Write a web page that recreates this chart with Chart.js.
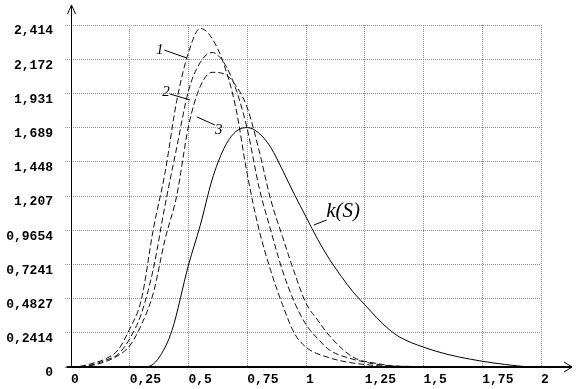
<!DOCTYPE html>
<html>
<head>
<meta charset="utf-8">
<script src="https://cdn.jsdelivr.net/npm/chart.js@4.4.1/dist/chart.umd.min.js"></script>
<style>
  html, body { margin: 0; padding: 0; background: #fff; }
  #wrap { width: 576px; height: 389px; }
</style>
</head>
<body>
<div id="wrap"><canvas id="chart" width="576" height="389"></canvas></div>
<script>
/* =========================
   DATA
========================= */
const xLabels = ["0", "0,25", "0,5", "0,75", "1", "1,25", "1,5", "1,75", "2"];
const yLabels = ["0", "0,2414", "0,4827", "0,7241", "0,9654", "1,207", "1,448", "1,689", "1,931", "2,172", "2,414"];

// k(S) — solid curve
const sK = [0, 0.3, 0.34, 0.38, 0.43, 0.5, 0.55, 0.6, 0.65, 0.7, 0.75, 0.8, 0.85, 0.9, 0.95, 1.0, 1.05, 1.1, 1.15, 1.2, 1.25, 1.3, 1.35, 1.4, 1.5, 1.6, 1.7, 1.8, 1.9, 1.95];
const kS = [0, 0, 0.01, 0.08, 0.26, 0.72, 1.0, 1.32, 1.54, 1.66, 1.69, 1.65, 1.55, 1.39, 1.22, 1.06, 0.9, 0.76, 0.64, 0.53, 0.44, 0.35, 0.27, 0.21, 0.14, 0.09, 0.055, 0.028, 0.008, 0];

// dashed curve 1
const s1 = [0, 0.05, 0.1, 0.15, 0.2, 0.25, 0.3, 0.35, 0.4, 0.45, 0.5, 0.55, 0.6, 0.65, 0.7, 0.75, 0.8, 0.85, 0.9, 0.95, 1.0, 1.1, 1.2, 1.3, 1.4, 1.95];
const c1 = [0, 0.008, 0.03, 0.06, 0.12, 0.27, 0.48, 0.97, 1.37, 1.88, 2.22, 2.39, 2.32, 2.14, 1.84, 1.36, 0.97, 0.68, 0.44, 0.24, 0.14, 0.065, 0.028, 0.01, 0, 0];

// dashed curve 2
const s2 = [0, 0.05, 0.1, 0.15, 0.2, 0.25, 0.3, 0.35, 0.4, 0.45, 0.5, 0.55, 0.6, 0.65, 0.7, 0.75, 0.8, 0.85, 0.9, 0.95, 1.0, 1.05, 1.1, 1.2, 1.3, 1.4, 1.95];
const c2 = [0, 0.005, 0.02, 0.05, 0.09, 0.2, 0.38, 0.69, 1.14, 1.55, 1.95, 2.15, 2.22, 2.15, 1.97, 1.68, 1.27, 0.965, 0.68, 0.46, 0.3, 0.2, 0.12, 0.055, 0.02, 0.005, 0];

// dashed curve 3
const s3 = [0, 0.05, 0.1, 0.15, 0.2, 0.25, 0.3, 0.35, 0.4, 0.45, 0.5, 0.55, 0.6, 0.65, 0.7, 0.75, 0.8, 0.85, 0.9, 0.95, 1.0, 1.05, 1.1, 1.2, 1.3, 1.4, 1.95];
const c3 = [0, 0.004, 0.015, 0.04, 0.08, 0.15, 0.3, 0.52, 0.9, 1.21, 1.7, 1.98, 2.08, 2.07, 1.99, 1.83, 1.53, 1.18, 0.92, 0.67, 0.45, 0.33, 0.22, 0.07, 0.025, 0.005, 0];

/* =========================
   CURVE NOTES (data coords)
========================= */
const notes = [
  { text: "1", font: "italic 15px 'Liberation Serif'", at: [0.378, 2.237], from: [0.397, 2.237], to: [0.493, 2.181] },
  { text: "2", font: "italic 15px 'Liberation Serif'", at: [0.404, 1.941], from: [0.421, 1.927], to: [0.506, 1.885] },
  { text: "3", font: "italic 15px 'Liberation Serif'", at: [0.629, 1.672], from: [0.612, 1.708], to: [0.536, 1.765] },
  { text: "k(S)", font: "italic 21px 'Liberation Serif'", at: [1.158, 1.101], from: [1.088, 1.038], to: [1.033, 1.002] }
];

const toNum = s => parseFloat(s.replace(",", "."));
const pts = (xs, ys) => xs.map((x, i) => ({ x, y: ys[i] }));
const tickFont = { family: "'Liberation Mono', monospace", size: 13, weight: "bold" };
const gridColor = "#8c8c8c";

/* =========================
   AXES + ARROWS + NOTES
========================= */
const axesAndNotes = {
  id: "axesAndNotes",
  afterDatasetsDraw(chart) {
    const { ctx, scales: { x, y } } = chart;
    const x0 = Math.round(x.getPixelForValue(0)) + 0.5;
    const y0 = Math.round(y.getPixelForValue(0));
    const xEnd = chart.width - 4;

    ctx.save();
    ctx.strokeStyle = "#000";
    ctx.lineWidth = 1;
    ctx.beginPath();
    ctx.moveTo(x0, y0);
    ctx.lineTo(x0, 5);
    ctx.stroke();
    ctx.beginPath();
    ctx.moveTo(x0 - 4, 14);
    ctx.lineTo(x0, 5);
    ctx.lineTo(x0 + 4, 14);
    ctx.stroke();

    ctx.lineWidth = 2;
    ctx.beginPath();
    ctx.moveTo(x0 - 5, y0);
    ctx.lineTo(xEnd, y0);
    ctx.stroke();
    ctx.lineWidth = 1;
    ctx.beginPath();
    ctx.moveTo(xEnd - 8, y0 - 5);
    ctx.lineTo(xEnd, y0);
    ctx.lineTo(xEnd - 8, y0 + 5);
    ctx.stroke();

    // curve labels with leader lines
    ctx.fillStyle = "#000";
    ctx.textAlign = "center";
    ctx.textBaseline = "middle";
    notes.forEach(n => {
      ctx.beginPath();
      ctx.moveTo(x.getPixelForValue(n.from[0]), y.getPixelForValue(n.from[1]));
      ctx.lineTo(x.getPixelForValue(n.to[0]), y.getPixelForValue(n.to[1]));
      ctx.stroke();
      ctx.font = n.font;
      ctx.fillText(n.text, x.getPixelForValue(n.at[0]), y.getPixelForValue(n.at[1]));
    });
    ctx.restore();
  }
};

/* =========================
   CHART
========================= */
const dashed = { borderColor: "#111", borderWidth: 1, borderDash: [6, 3] };

new Chart(document.getElementById("chart"), {
  type: "scatter",
  data: {
    datasets: [
      { label: "k(S)", data: pts(sK, kS), borderColor: "#000", borderWidth: 1 },
      { label: "1", data: pts(s1, c1), ...dashed },
      { label: "2", data: pts(s2, c2), ...dashed },
      { label: "3", data: pts(s3, c3), ...dashed }
    ]
  },
  options: {
    responsive: false,
    animation: false,
    showLine: true,
    layout: { padding: { top: 25, right: 35, left: 0, bottom: 0 } },
    elements: {
      point: { radius: 0, hoverRadius: 0 },
      line: { cubicInterpolationMode: "monotone", fill: false }
    },
    plugins: {
      legend: { display: false },
      tooltip: { enabled: false }
    },
    scales: {
      x: {
        type: "linear",
        min: 0,
        max: 2,
        afterBuildTicks: s => { s.ticks = xLabels.map(l => ({ value: toNum(l) })); },
        afterFit: s => { s.height = 22; },
        grid: { color: gridColor, drawTicks: false },
        border: { display: false, dash: [1, 1] },
        ticks: {
          align: "start",
          padding: 5,
          color: "#000",
          font: tickFont,
          maxRotation: 0,
          autoSkip: false,
          callback: (v, i) => xLabels[i]
        }
      },
      y: {
        type: "linear",
        min: 0,
        max: toNum(yLabels[yLabels.length - 1]),
        afterBuildTicks: s => { s.ticks = yLabels.map(l => ({ value: toNum(l) })); },
        afterFit: s => { s.width = 71; },
        grid: { color: gridColor, tickLength: 6, tickColor: gridColor, tickBorderDash: [1, 1] },
        border: { display: false, dash: [1, 1] },
        ticks: {
          padding: 12,
          labelOffset: 6,
          color: "#000",
          font: tickFont,
          autoSkip: false,
          callback: (v, i) => yLabels[i]
        }
      }
    }
  },
  plugins: [axesAndNotes]
});
</script>
</body>
</html>
